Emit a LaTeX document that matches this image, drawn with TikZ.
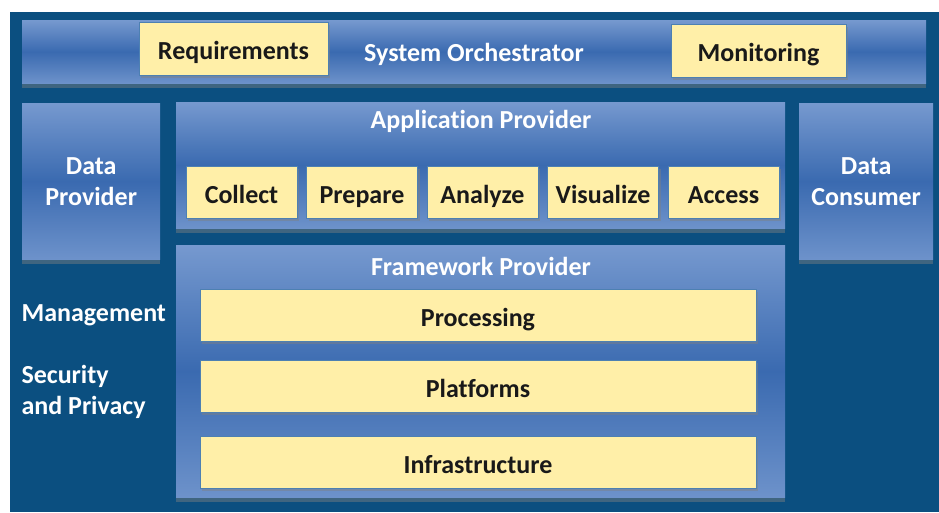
\documentclass[tikz,border=0pt]{standalone}
\usepackage{fontspec}
\setmainfont{Carlito}[Ligatures=CommonOff]
\usetikzlibrary{positioning,shadows}
\definecolor{navy}{HTML}{0B4F80}
\definecolor{paneltop}{HTML}{7699CF}
\definecolor{panelmid}{HTML}{3A6AB0}
\definecolor{note}{HTML}{FFEFA8}
\definecolor{noteline}{HTML}{4D80B2}

\begin{document}
\begin{tikzpicture}[x=1pt,y=-1pt,node distance=9.5pt]
        \tikzstyle{panel}=[draw=none,top color=paneltop,bottom color=paneltop!85!panelmid,
                middle color=panelmid,inner sep=0pt,anchor=north west,text=white,
                font=\bfseries\fontsize{26}{31}\selectfont,align=center,
                drop shadow={shadow xshift=0pt,shadow yshift=-5pt,opacity=0.45}]
        \tikzstyle{block}=[draw=noteline,line width=0.8pt,fill=note,text=black!90,
                inner sep=0pt,outer sep=0pt,text height=24pt,text depth=2pt,
                font=\bfseries\fontsize{26}{30}\selectfont,
                drop shadow={shadow xshift=2pt,shadow yshift=-3pt,opacity=0.45}]
        \tikzstyle{heading}=[text=white,font=\bfseries\fontsize{26}{31}\selectfont,align=left]

        \useasboundingbox (0,0) rectangle (939,512);
        \fill[navy] (10,12) rectangle (939,512);

        % panels
        \node[panel,minimum width=904,minimum height=63]  (SO) at (22,20)   { };
        \node[panel,minimum width=138,minimum height=156] (DP) at (22,103)  {Data\\Provider};
        \node[panel,minimum width=134,minimum height=156] (DC) at (799,103) {Data\\Consumer};
        \node[panel,minimum width=609,minimum height=126] (AP) at (176,102) { };
        \node[panel,minimum width=609,minimum height=252] (FP) at (176,245) { };

        \node[heading] (SOt) at (474,54)  {System Orchestrator};
        \node[heading] (APt) at (481,121) {Application Provider};
        \node[heading] (FPt) at (481,266) {Framework Provider};
        \node[heading,anchor=west] (MG) at (18,315) {Management};
        \node[heading,anchor=west] (SP) at (18,392) {Security\\and Privacy};

        % orchestrator
        \node[block,anchor=north west,minimum width=189,minimum height=53] (RQ) at (139,22) {Requirements};
        \node[block,anchor=north west,minimum width=175,minimum height=53] (MN) at (671,24) {Monitoring};

        % application steps
        \node[block,anchor=north west,minimum width=111,minimum height=52] (CO) at (186,166) {Collect};
        \node[block,minimum width=111,minimum height=52] (PR) [right=of CO] {Prepare};
        \node[block,minimum width=111,minimum height=52] (AN) [right=of PR] {Analyze};
        \node[block,minimum width=111,minimum height=52] (VI) [right=of AN] {Visualize};
        \node[block,minimum width=111,minimum height=52] (AC) [right=of VI] {Access};

        % framework layers
        \node[block,anchor=north west,minimum width=556,minimum height=52] (PS) at (200,289) {Processing};
        \node[block,minimum width=556,minimum height=52] (PL) [below=19pt of PS] {Platforms};
        \node[block,minimum width=556,minimum height=52] (IN) [below=24pt of PL] {Infrastructure};
\end{tikzpicture}
\end{document}
